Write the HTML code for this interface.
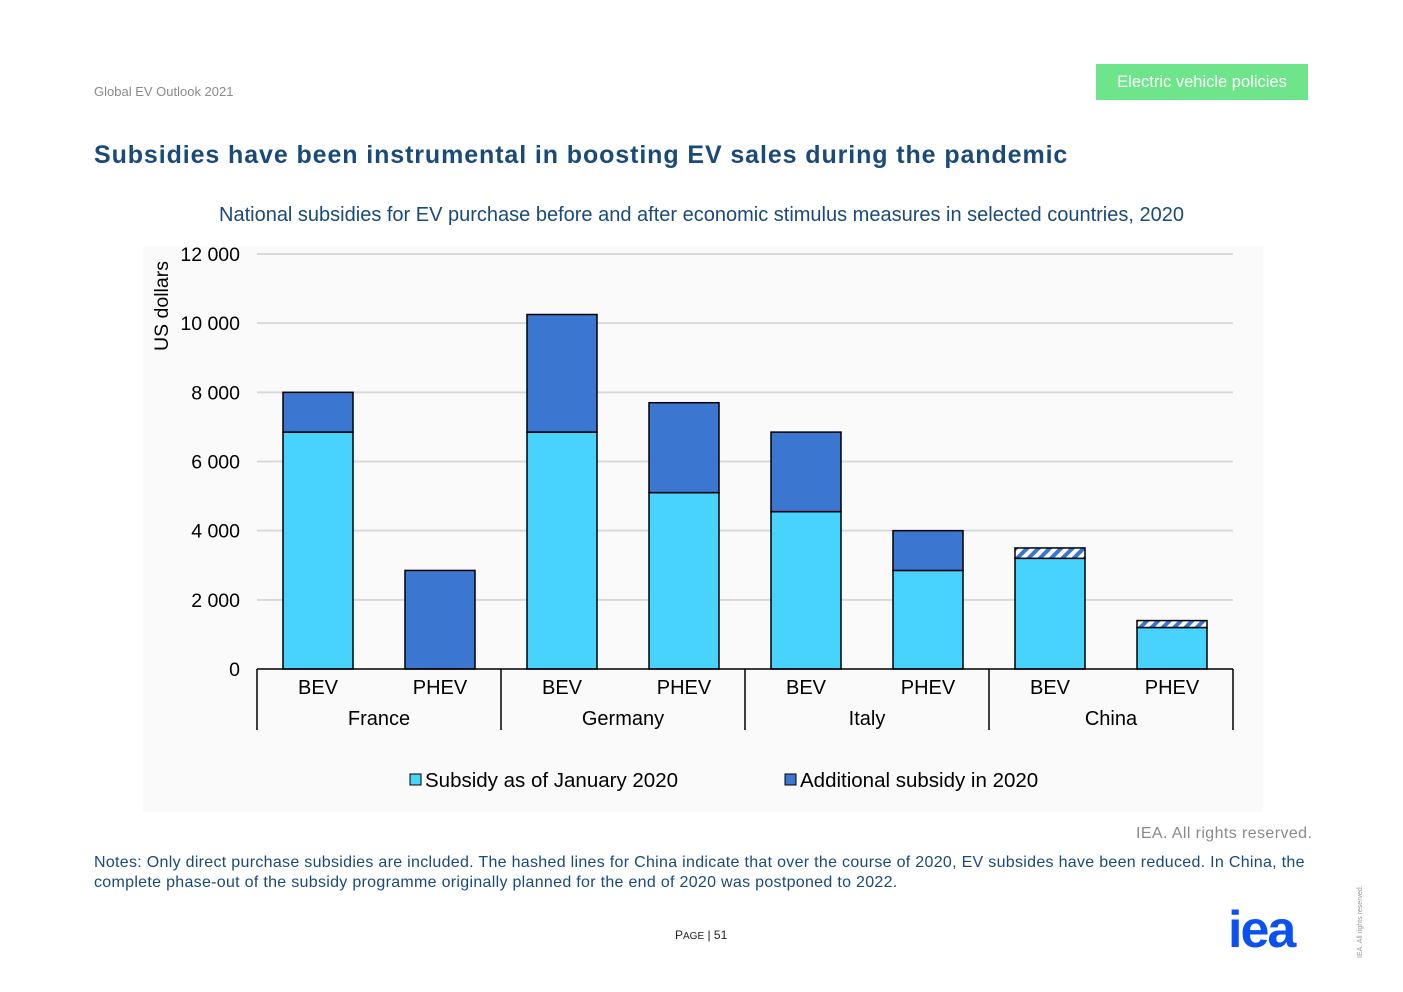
<!DOCTYPE html>
<html><head><meta charset="utf-8"><style>
body{margin:0;width:1403px;height:992px;background:#fff;font-family:"Liberation Sans",sans-serif;position:relative;overflow:hidden}
.a{position:absolute;white-space:nowrap}
</style></head><body>
<div class="a" style="left:94px;top:84px;font-size:13px;color:#8a8a8a">Global EV Outlook 2021</div>
<div class="a" style="left:1096px;top:64px;width:212px;height:36px;background:#6ee58a;color:#fff;font-size:16.5px;line-height:36px;text-align:center">Electric vehicle policies</div>
<div class="a" style="left:94px;top:141px;font-size:25px;font-weight:bold;color:#1a4a7a;letter-spacing:0.9px">Subsidies have been instrumental in boosting EV sales during the pandemic</div>
<div class="a" style="left:143px;top:246px;width:1120px;height:566px;background:#fafafa"></div>
<div class="a" style="left:219px;top:204px;font-size:20px;color:#1a4a7a">National subsidies for EV purchase before and after economic stimulus measures in selected countries, 2020</div>
<svg class="a" style="left:0;top:0" width="1403" height="992">
<defs><pattern id="h" width="8" height="8" patternUnits="userSpaceOnUse" patternTransform="rotate(45)"><rect width="8" height="8" fill="#fff"/><rect width="4" height="8" fill="#3b76d1"/></pattern></defs>
<g id="g"></g></svg>
<div class="a" style="left:1136px;top:825px;font-size:16px;color:#8a8a8a;letter-spacing:0.4px">IEA. All rights reserved.</div>
<div class="a" style="left:94px;top:853px;font-size:16px;color:#1a4a7a;line-height:20px;white-space:normal;width:1240px;letter-spacing:0.3px">Notes: Only direct purchase subsidies are included. The hashed lines for China indicate that over the course of 2020, EV subsides have been reduced. In China, the complete phase-out of the subsidy programme originally planned for the end of 2020 was postponed to 2022.</div>
<div class="a" style="left:675px;top:928px;font-size:12px;color:#222">P<span style="font-size:10px">AGE</span> | 51</div>
<div class="a" style="left:1228px;top:900px;font-size:52px;font-weight:bold;color:#0b50f0;letter-spacing:-2px">iea</div>
<div class="a" style="left:1357px;top:958px;font-size:7px;color:#999;transform:rotate(-90deg);transform-origin:0 0">IEA. All rights reserved.</div>
<script>
const countries=["France","Germany","Italy","China"];
const types=["BEV","PHEV","BEV","PHEV","BEV","PHEV","BEV","PHEV"];
const baseVals=[6850,0,6850,5100,4550,2850,3200,1200];
const addVals=[1150,2850,3400,2600,2300,1150,0,0];
const reducedVals=[0,0,0,0,0,0,300,200];
const yTicks=[0,2000,4000,6000,8000,10000,12000];
const NS="http://www.w3.org/2000/svg",g=document.getElementById('g');
const y=v=>669-v*415/12000, x0=257, slot=122, bw=70;
function el(t,a,txt){const e=document.createElementNS(NS,t);for(const k in a)e.setAttribute(k,a[k]);if(txt!=null)e.textContent=txt;g.appendChild(e);return e;}
yTicks.forEach(t=>{
 if(t>0){const l=el('line',{x1:257,x2:1233,y1:y(t),y2:y(t),stroke:'#d9d9d9','stroke-width':2});
 
 }
 const tx=el('text',{x:240,y:y(t)+7,'text-anchor':'end','font-size':19.5,fill:'#000'},t===0?'0':t.toLocaleString('en').replace(',',' '));
 
 
});
const yt=el('text',{transform:'translate(168,306) rotate(-90)','text-anchor':'middle','font-size':19.5},'US dollars');


types.forEach((t,i)=>{
 const cx=x0+slot*i+slot/2, bx=cx-bw/2;
 if(baseVals[i]>0){const r=el('rect',{x:bx,y:y(baseVals[i]),width:bw,height:y(0)-y(baseVals[i]),fill:'#48d3fe',stroke:'#000','stroke-width':1.5});
 
 }
 if(addVals[i]>0){const tot=baseVals[i]+addVals[i];const r=el('rect',{x:bx,y:y(tot),width:bw,height:y(baseVals[i])-y(tot),fill:'#3b76d1',stroke:'#000','stroke-width':1.5});
 
 }
 if(reducedVals[i]>0){const tot=baseVals[i]+reducedVals[i];const r=el('rect',{x:bx,y:y(tot),width:bw,height:y(baseVals[i])-y(tot),fill:'url(#h)',stroke:'#000','stroke-width':1.5});
 
 }
 const tl=el('text',{x:cx,y:694,'text-anchor':'middle','font-size':20},t);
 
 
});
const ax=el('line',{x1:257,x2:1233,y1:669,y2:669,stroke:'#000','stroke-width':1.5});


for(let k=0;k<=4;k++){const l=el('line',{x1:x0+k*2*slot,x2:x0+k*2*slot,y1:669,y2:730,stroke:'#000','stroke-width':1.5});
 
 }
countries.forEach((c,k)=>{const t=el('text',{x:x0+k*2*slot+slot,y:725,'text-anchor':'middle','font-size':20},c);
 
 });
[[410,'#48d3fe','Subsidy as of January 2020'],[785,'#3b76d1','Additional subsidy in 2020']].forEach(([lx,col,txt])=>{
 const r=el('rect',{x:lx,y:774,width:11,height:11,fill:col,stroke:'#000','stroke-width':1});
 
 
 const t=el('text',{x:lx+15,y:787,'font-size':20.5},txt);
 
 
});
</script>
</body></html>
